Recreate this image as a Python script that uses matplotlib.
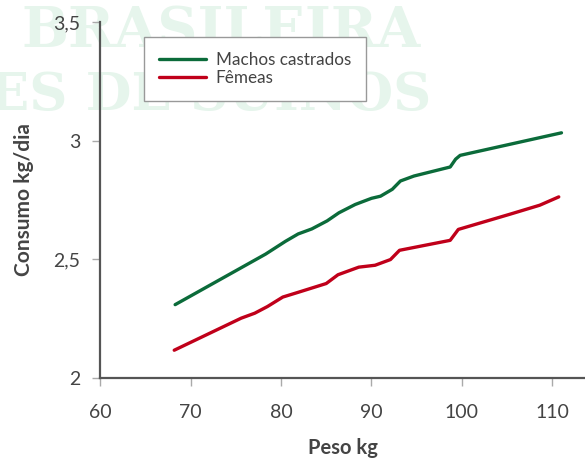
import matplotlib
matplotlib.use("Agg")
import matplotlib.pyplot as plt

machos_x = [68.3, 78.3, 80.5, 81.9, 83.4, 85.1, 86.4, 88.2, 90.0, 91.0, 92.3, 93.2, 94.7, 98.7, 99.3, 99.8, 111.0]
machos_y = [2.309, 2.522, 2.576, 2.607, 2.628, 2.662, 2.696, 2.731, 2.757, 2.766, 2.795, 2.830, 2.851, 2.889, 2.922, 2.938, 3.033]
femeas_x = [68.2, 75.6, 77.1, 78.5, 80.2, 81.9, 85.0, 86.3, 88.6, 90.4, 92.1, 93.1, 98.7, 99.6, 105.3, 108.6, 110.7]
femeas_y = [2.117, 2.252, 2.273, 2.301, 2.341, 2.361, 2.398, 2.435, 2.467, 2.475, 2.499, 2.538, 2.580, 2.626, 2.690, 2.728, 2.763]
x_ticks = [60, 70, 80, 90, 100, 110]
y_ticks = [2, 2.5, 3, 3.5]
y_tick_labels = ["2", "2,5", "3", "3,5"]

plt.rcParams['font.family'] = ['Lato', 'DejaVu Sans']

fig = plt.figure(figsize=(5.85, 4.59), dpi=100)
wm = "#e6f5ec"
fig.text(0.036, 0.8976, "BRASILEIRA", family="DejaVu Serif", fontweight="bold",
         fontsize=40, color=wm, va="baseline", ha="left", zorder=0)
fig.text(-0.018, 0.760, "ES DE SUINOS", family="DejaVu Serif", fontweight="bold",
         fontsize=38, color=wm, va="baseline", ha="left", zorder=0)

ax = fig.add_axes([0.171, 0.1765, 0.829, 0.7756])
ax.set_zorder(2)
ax.patch.set_alpha(0)
ax.plot(machos_x, machos_y, color="#0b6b3a", lw=2.4, label="Machos castrados",
        solid_capstyle="round", solid_joinstyle="round")
ax.plot(femeas_x, femeas_y, color="#c0001a", lw=2.4, label="Fêmeas",
        solid_capstyle="round", solid_joinstyle="round")

ax.set_xlim(60, 113.6)
ax.set_ylim(2, 3.5)
ax.set_xticks(x_ticks)
ax.set_yticks(y_ticks)
ax.set_yticklabels(y_tick_labels)
for s in ["top", "right"]:
    ax.spines[s].set_visible(False)
for s in ["left", "bottom"]:
    ax.spines[s].set_color("#555555")
    ax.spines[s].set_linewidth(1.6)
ax.tick_params(axis="both", colors="#aaaaaa", labelcolor="#444444", labelsize=14, length=6, width=1)
ax.tick_params(axis="x", pad=13)
ax.tick_params(axis="y", pad=8)
ax.set_xlabel("Peso kg", fontsize=14.5, fontweight="bold", color="#444444", va="center")
ax.set_ylabel("Consumo kg/dia", fontsize=15, fontweight="bold", color="#444444", va="center")
ax.xaxis.set_label_coords(0.5, -0.197)
ax.yaxis.set_label_coords(-0.156, 0.5)

leg = ax.legend(loc="upper left", bbox_to_anchor=(0.0907, 0.958), fontsize=12.3, frameon=True,
                fancybox=False, edgecolor="#999999", framealpha=1, handlelength=2.75,
                handletextpad=0.55, borderpad=0.9, labelspacing=0.1, borderaxespad=0)
leg.get_frame().set_linewidth(1.0)
for t in leg.get_texts():
    t.set_color("#444444")

fig.savefig("out.png", dpi=100)
